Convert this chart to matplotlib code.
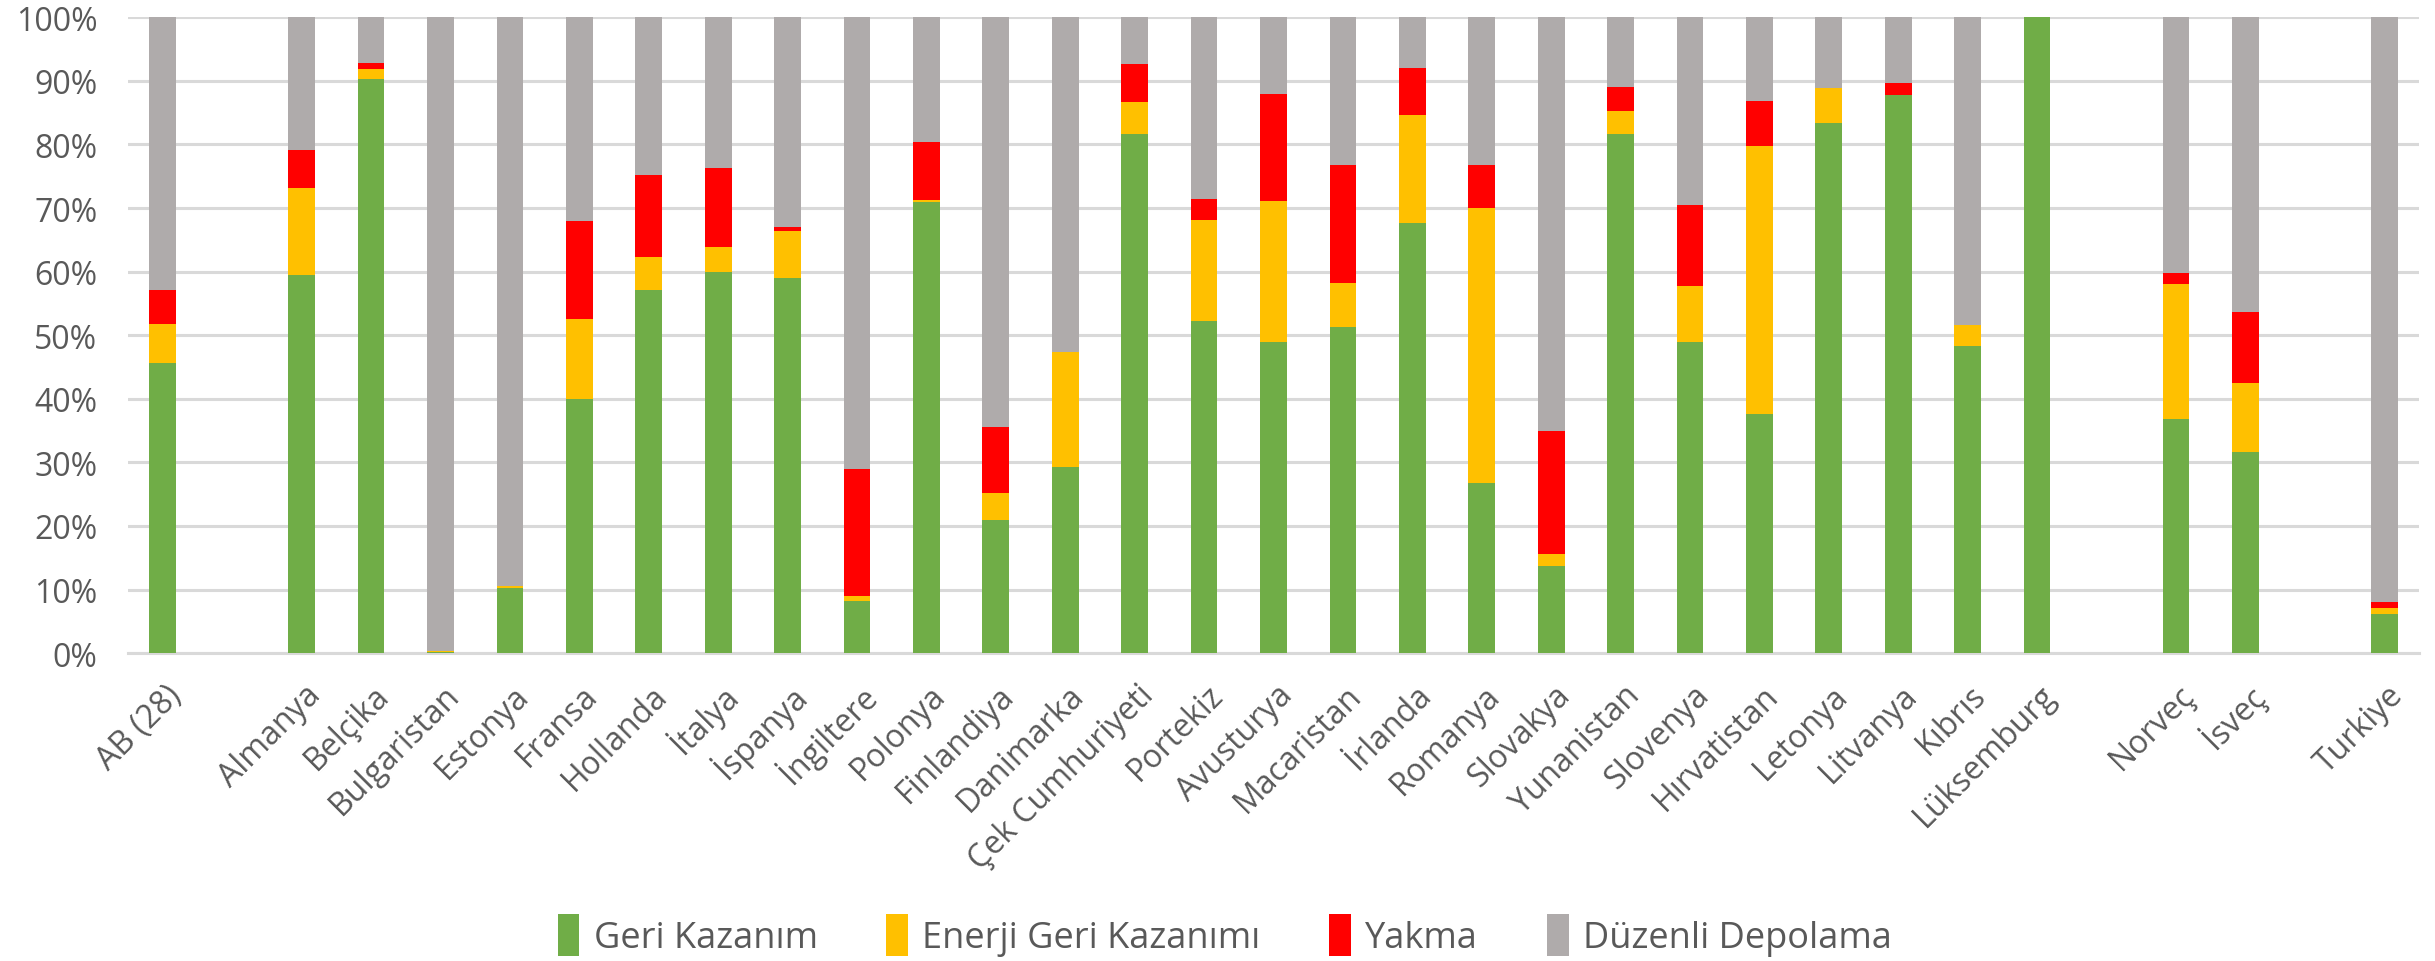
import numpy as np
import matplotlib.pyplot as plt
from matplotlib.transforms import ScaledTranslation, blended_transform_factory

# categories ('' = empty slot in the original chart)
countries = ["AB (28)", "", "Almanya", "Belçika", "Bulgaristan", "Estonya", "Fransa",
             "Hollanda", "İtalya", "İspanya", "İngiltere", "Polonya", "Finlandiya",
             "Danimarka", "Çek Cumhuriyeti", "Portekiz", "Avusturya", "Macaristan",
             "İrlanda", "Romanya", "Slovakya", "Yunanistan", "Slovenya", "Hırvatistan",
             "Letonya", "Litvanya", "Kıbrıs", "Lüksemburg", "", "Norveç", "İsveç", "",
             "Turkiye"]

# shares in percent
geri_kazanim = [45.6, 0, 59.5, 90.3, 0.2, 10.3, 40.0, 57.1, 60.0, 59.0, 8.2, 70.9, 20.9,
                29.2, 81.7, 52.3, 49.0, 51.3, 67.7, 26.8, 13.7, 81.7, 48.9, 37.6,
                83.3, 87.8, 48.3, 100.0, 0, 36.8, 31.7, 0, 6.1]
enerji_geri = [6.2, 0, 13.6, 1.6, 0.2, 0.2, 12.5, 5.2, 3.9, 7.4, 0.8, 0.4, 4.3,
               18.1, 5.0, 15.8, 22.1, 6.9, 17.0, 43.2, 1.9, 3.6, 8.9, 42.1,
               5.6, 0.0, 3.3, 0.0, 0, 21.3, 10.8, 0, 1.0]
yakma = [5.3, 0, 6.0, 0.9, 0.0, 0.0, 15.4, 12.9, 12.4, 0.6, 19.9, 9.1, 10.4,
         0.0, 6.0, 3.4, 16.9, 18.5, 7.4, 6.8, 19.3, 3.7, 12.7, 7.2,
         0.0, 1.9, 0.0, 0.0, 0, 1.7, 11.2, 0, 0.9]
duzenli_depolama = [100 - g - e - y if c else 0
                    for c, g, e, y in zip(countries, geri_kazanim, enerji_geri, yakma)]

series = ["Geri Kazanım", "Enerji Geri Kazanımı", "Yakma", "Düzenli Depolama"]
colors = ["#70AD47", "#FFC000", "#FF0000", "#AFABAB"]

text_clr = "#595959"
grid_clr = "#D9D9D9"
fam = ["Open Sans", "DejaVu Sans"]

fig = plt.figure(figsize=(24.35, 9.62), dpi=100)
ax = fig.add_axes([0.0526, 0.320, 0.9408, 0.661])

x = np.arange(len(countries))
bottom = np.zeros(len(countries))
for name, vals, clr in zip(series, [geri_kazanim, enerji_geri, yakma, duzenli_depolama], colors):
    vals = np.array(vals) / 100.0
    ax.bar(x, vals, width=0.385, bottom=bottom, color=clr, label=name, zorder=3)
    bottom += vals

ax.set_xlim(-0.5, len(countries) - 0.5)
ax.set_ylim(0, 1)
ax.set_yticks(np.arange(0, 1.01, 0.1))
ax.set_yticklabels([f"{int(round(v * 100))}%" for v in np.arange(0, 1.01, 0.1)],
                   fontsize=23, color=text_clr, family=fam)
ax.yaxis.grid(True, color=grid_clr, linewidth=2.2, zorder=0)
ax.set_axisbelow(True)

# category labels drawn by hand so they can sit a bit right of the tick, like excel
ax.set_xticks(x)
ax.set_xticklabels([])
trans = blended_transform_factory(ax.transData, ax.transAxes) + \
    ScaledTranslation(10 / 72, -26.5 / 72, fig.dpi_scale_trans)
for i, c in zip(x, countries):
    ax.text(i, 0, c, transform=trans, rotation=45, ha="right", va="center",
            rotation_mode="anchor", fontsize=23, color=text_clr, family=fam)

ax.tick_params(axis="both", length=0)
ax.tick_params(axis="y", pad=22)

for s in ["top", "right", "left"]:
    ax.spines[s].set_visible(False)
ax.spines["bottom"].set_color(grid_clr)
ax.spines["bottom"].set_linewidth(2.2)

leg = fig.legend(loc="center", bbox_to_anchor=(0.503, 0.027), ncol=4, frameon=False,
                 handlelength=0.6, handleheight=1.4, columnspacing=1.9,
                 handletextpad=0.4, prop={"family": fam, "size": 26})
for t in leg.get_texts():
    t.set_color(text_clr)

fig.savefig("out.png", dpi=100)
